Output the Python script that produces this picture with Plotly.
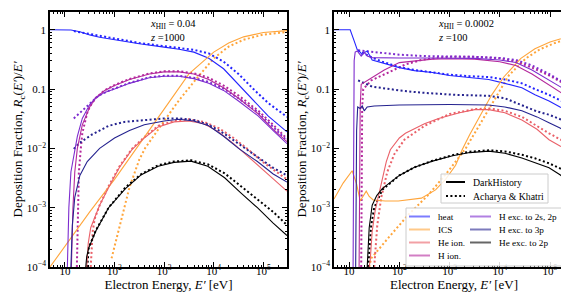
import math
import plotly.graph_objects as go

# ---------------- data (energy in eV, deposition fraction) ----------------
# Left panel: x_HII = 0.04, z = 1000
L_HEAT_DH_E = [5, 10, 13.2, 20, 31.6, 50, 100, 316, 1000, 2000, 3980, 7940, 1.58e4, 3.16e4, 6.31e4, 1.26e5, 3e5]
L_HEAT_DH_R = [1.0, 1.0, 0.99, 0.93, 0.82, 0.75, 0.68, 0.58, 0.51, 0.47, 0.42, 0.33, 0.22, 0.12, 0.065, 0.035, 0.019]
L_HEAT_AK_E = [15.1, 31.6, 100, 316, 1000, 2000, 3980, 7940, 1.58e4, 3.16e4, 6.31e4, 1.26e5, 3e5]
L_HEAT_AK_R = [0.95, 0.85, 0.70, 0.60, 0.53, 0.50, 0.46, 0.40, 0.29, 0.18, 0.10, 0.058, 0.034]

L_ICS_DH_E = [5, 10, 31.6, 100, 316, 1000, 3160, 6310, 1e4, 2e4, 4e4, 1e5, 3e5]
L_ICS_DH_R = [1.0e-4, 2.2e-4, 8.5e-4, 3.0e-3, 0.012, 0.046, 0.18, 0.30, 0.42, 0.60, 0.76, 0.90, 0.97]
L_ICS_AK_E = [87.1, 126, 200, 316, 417, 1000, 2000, 4790, 1e4, 2e4, 4e4, 1e5, 3e5]
L_ICS_AK_R = [1.4e-4, 5e-4, 2.2e-3, 6.5e-3, 0.0102, 0.029, 0.065, 0.16, 0.33, 0.52, 0.68, 0.83, 0.92]

L_HEION_DH_E = [27.5, 29.5, 33.1, 39.8, 50.1, 75.9, 126, 224, 398, 759, 1580, 3160, 6310, 1.26e4, 2.51e4, 5.01e4, 1e5, 1.58e5, 3e5]
L_HEION_DH_R = [1e-4, 2.5e-4, 4.6e-4, 7e-4, 1.1e-3, 2.2e-3, 4.8e-3, 0.0095, 0.015, 0.023, 0.028, 0.029, 0.026, 0.019, 0.012, 0.0072, 0.0043, 0.0031, 0.0019]
L_HEION_AK_E = [33.1, 34.7, 36.3, 39.8, 50.1, 75.9, 126, 224, 398, 759, 1580, 3160, 6310, 1.26e4, 2.51e4, 5.01e4, 1e5, 1.58e5, 3e5]
L_HEION_AK_R = [1e-4, 2.5e-4, 4e-4, 6.5e-4, 1.1e-3, 2.3e-3, 5e-3, 0.0098, 0.0155, 0.024, 0.029, 0.031, 0.028, 0.022, 0.015, 0.0095, 0.0058, 0.0044, 0.003]

L_HION_DH_E = [13.5, 14.5, 15.8, 17.8, 22.4, 31.6, 41.7, 63.1, 100, 200, 501, 1000, 2000, 3980, 7940, 1.58e4, 3.16e4, 7.94e4, 1.58e5, 3e5]
L_HION_DH_R = [1e-4, 1e-3, 4e-3, 0.01, 0.025, 0.05, 0.071, 0.095, 0.115, 0.145, 0.18, 0.195, 0.195, 0.18, 0.145, 0.105, 0.07, 0.038, 0.021, 0.013]
L_HION_AK_E = [17.4, 18.2, 19.1, 20.9, 22.4, 28.2, 31.6, 41.7, 63.1, 100, 200, 501, 1000, 2000, 3980, 7940, 1.58e4, 3.16e4, 7.94e4, 1.58e5, 3e5]
L_HION_AK_R = [1e-4, 1e-3, 4e-3, 0.01, 0.018, 0.04, 0.05, 0.071, 0.095, 0.117, 0.148, 0.183, 0.2, 0.2, 0.185, 0.155, 0.115, 0.078, 0.043, 0.025, 0.0145]

L_H2S_DH_E = [11.2, 12.0, 13.2, 15.1, 17.8, 22.4, 31.6, 41.7, 63.1, 100, 200, 501, 1000, 2000, 3980, 7940, 1.58e4, 3.16e4, 7.94e4, 1.58e5, 3e5]
L_H2S_DH_R = [1e-4, 1e-3, 4e-3, 0.008, 0.016, 0.032, 0.055, 0.071, 0.088, 0.1, 0.125, 0.155, 0.165, 0.165, 0.15, 0.125, 0.095, 0.063, 0.035, 0.02, 0.012]
L_H2S_AK_E = [15.1, 20, 26.3, 35.5, 47.9, 79.4, 100, 200, 501, 1000, 2000, 3980, 7940, 1.58e4, 3.16e4, 7.94e4, 1.58e5, 3e5]
L_H2S_AK_R = [0.032, 0.04, 0.048, 0.062, 0.078, 0.095, 0.102, 0.127, 0.158, 0.168, 0.168, 0.155, 0.132, 0.102, 0.07, 0.04, 0.023, 0.0135]

L_H3P_DH_E = [13.2, 14.1, 15.8, 20, 28.2, 50.1, 100, 200, 398, 1000, 2000, 3980, 7940, 1.58e4, 3.16e4, 7.59e4, 1.58e5, 3e5]
L_H3P_DH_R = [1e-4, 5e-4, 1.5e-3, 3.5e-3, 6e-3, 0.01, 0.015, 0.02, 0.025, 0.029, 0.031, 0.029, 0.024, 0.016, 0.01, 0.006, 0.0037, 0.0027]
L_H3P_AK_E = [15.1, 20, 34.7, 75.9, 158, 347, 1000, 2000, 3980, 7940, 1.58e4, 3.16e4, 7.59e4, 1.58e5, 3e5]
L_H3P_AK_R = [0.0098, 0.0125, 0.017, 0.024, 0.028, 0.03, 0.032, 0.032, 0.03, 0.025, 0.018, 0.012, 0.0072, 0.0047, 0.0035]

L_HEEXC_DH_E = [26.3, 27.5, 30.2, 41.7, 75.9, 166, 347, 759, 1580, 3470, 7590, 1.66e4, 3.47e4, 7.59e4, 1.58e5, 3e5]
L_HEEXC_DH_R = [1e-4, 1.5e-4, 2.1e-4, 4e-4, 1e-3, 2.1e-3, 3.6e-3, 5.0e-3, 5.8e-3, 6.1e-3, 5.0e-3, 3.2e-3, 1.8e-3, 1.0e-3, 5.5e-4, 3.4e-4]
L_HEEXC_AK_E = [28.2, 30.2, 41.7, 75.9, 166, 347, 759, 1580, 3470, 7590, 1.66e4, 3.47e4, 7.59e4, 1.58e5, 3e5]
L_HEEXC_AK_R = [1e-4, 2.1e-4, 4.1e-4, 1.0e-3, 2.2e-3, 3.7e-3, 5.2e-3, 6.0e-3, 6.3e-3, 5.4e-3, 3.8e-3, 2.3e-3, 1.4e-3, 8.5e-4, 5.1e-4]

# Right panel: x_HII = 0.0002, z = 100
R_HEAT_DH_E = [5, 10, 10.5, 12.6, 14.5, 16.6, 18.2, 20.9, 22.9, 28.8, 45.7, 100, 200, 457, 1000, 2510, 6030, 1.26e4, 2.75e4, 5.01e4, 9.55e4, 1.58e5, 3e5]
R_HEAT_DH_R = [1, 1, 1, 0.65, 0.46, 0.42, 0.38, 0.42, 0.44, 0.31, 0.28, 0.23, 0.205, 0.19, 0.17, 0.155, 0.145, 0.125, 0.105, 0.08, 0.063, 0.05, 0.04]
R_HEAT_AK_E = [15.1, 17.4, 20, 28.8, 45.7, 100, 200, 457, 1000, 2510, 6030, 1.26e4, 2.75e4, 5.01e4, 9.55e4, 1.58e5, 3e5]
R_HEAT_AK_R = [0.45, 0.42, 0.40, 0.34, 0.29, 0.235, 0.21, 0.19, 0.175, 0.165, 0.16, 0.145, 0.125, 0.10, 0.08, 0.065, 0.05]

R_ICS_DH_E = [5, 7.6, 11.5, 14.1, 16.6, 19.1, 21.9, 25.1, 30.2, 52.5, 95.5, 275, 525, 832, 1320, 1780, 2510, 4370, 6920, 1.2e4, 2.63e4, 5e4, 1e5, 1.58e5, 3e5]
R_ICS_DH_R = [1.4e-3, 2.6e-3, 4.2e-3, 2.5e-3, 1.3e-3, 1.6e-3, 1.9e-3, 1.55e-3, 1.35e-3, 1.3e-3, 1.3e-3, 1.45e-3, 2.0e-3, 3.0e-3, 5.2e-3, 9.5e-3, 0.017, 0.04, 0.08, 0.16, 0.33, 0.48, 0.62, 0.70, 0.79]
R_ICS_AK_E = [25.1, 27.5, 60.3, 151, 380, 955, 2090, 3980, 7940, 1.51e4, 3.31e4, 6.31e4, 1.26e5, 3e5]
R_ICS_AK_R = [1e-4, 1.4e-4, 3.1e-4, 7.6e-4, 1.65e-3, 4.2e-3, 0.01, 0.025, 0.068, 0.17, 0.33, 0.47, 0.60, 0.76]

R_HEION_DH_E = [25.1, 26.3, 28.8, 33.1, 45.7, 55, 66.1, 100, 132, 316, 603, 1580, 3160, 6030, 1.26e4, 2.75e4, 5.5e4, 9.55e4, 1.58e5, 3e5]
R_HEION_DH_R = [1e-4, 1.3e-4, 4e-4, 9e-4, 3e-3, 6e-3, 0.0095, 0.015, 0.018, 0.026, 0.032, 0.04, 0.045, 0.045, 0.04, 0.03, 0.021, 0.014, 0.011, 0.0085]
R_HEION_AK_E = [31.6, 36.3, 43.7, 57.5, 79.4, 126, 316, 1000, 3160, 6310, 1.26e4, 2.75e4, 9.55e4, 3e5]
R_HEION_AK_R = [1e-4, 5e-4, 1.5e-3, 4e-3, 0.008, 0.014, 0.024, 0.038, 0.046, 0.047, 0.043, 0.034, 0.018, 0.0105]

R_HION_DH_E = [15.8, 16.2, 16.6, 17.4, 22.9, 33.1, 50.1, 100, 200, 457, 1000, 3160, 1e4, 2.09e4, 4.37e4, 9.55e4, 1.58e5, 3e5]
R_HION_DH_R = [1e-4, 1e-3, 0.05, 0.12, 0.14, 0.17, 0.21, 0.28, 0.30, 0.32, 0.325, 0.32, 0.29, 0.25, 0.18, 0.118, 0.09, 0.063]
R_HION_AK_E = [17.4, 17.6, 18.2, 19.1, 27.5, 60, 132, 275, 600, 1000, 3160, 1e4, 2.09e4, 4.37e4, 9.55e4, 1.58e5, 3e5]
R_HION_AK_R = [1e-4, 0.01, 0.05, 0.10, 0.14, 0.19, 0.26, 0.31, 0.34, 0.35, 0.35, 0.33, 0.29, 0.23, 0.17, 0.135, 0.10]

R_H2S_DH_E = [12.0, 12.3, 12.6, 13.2, 14.5, 15.8, 17.4, 20, 22.9, 28.8, 45.7, 100, 316, 1000, 3160, 1e4, 2.09e4, 4.37e4, 9.55e4, 1.58e5, 3e5]
R_H2S_DH_R = [1e-4, 1e-2, 0.3, 0.42, 0.44, 0.40, 0.36, 0.42, 0.36, 0.34, 0.335, 0.335, 0.335, 0.335, 0.33, 0.31, 0.28, 0.21, 0.14, 0.11, 0.08]
R_H2S_AK_E = [15.1, 20, 45.7, 100, 316, 1000, 3160, 1e4, 2.09e4, 4.37e4, 9.55e4, 1.58e5, 3e5]
R_H2S_AK_R = [0.45, 0.44, 0.41, 0.38, 0.36, 0.355, 0.35, 0.335, 0.31, 0.25, 0.18, 0.14, 0.11]

R_H3P_DH_E = [13.5, 13.8, 14.1, 14.8, 16.6, 18.2, 20.0, 22.9, 31.6, 100, 1000, 6030, 1.26e4, 2.75e4, 5.5e4, 9.55e4, 1.58e5, 3e5]
R_H3P_DH_R = [1e-4, 1e-3, 0.02, 0.05, 0.047, 0.052, 0.043, 0.05, 0.052, 0.054, 0.055, 0.054, 0.05, 0.043, 0.034, 0.027, 0.022, 0.016]
R_H3P_AK_E = [15.1, 18.2, 28.8, 100, 275, 1320, 6030, 1.26e4, 2.75e4, 5.5e4, 9.55e4, 1.58e5, 3e5]
R_H3P_AK_R = [0.14, 0.13, 0.11, 0.095, 0.087, 0.08, 0.077, 0.07, 0.054, 0.042, 0.037, 0.031, 0.025]

R_HEEXC_DH_E = [22.9, 24.0, 25.1, 28.8, 35.5, 45.7, 100, 200, 457, 1150, 2510, 6030, 1.26e4, 2.75e4, 5.01e4, 9.55e4, 1.58e5, 3e5]
R_HEEXC_DH_R = [1e-4, 3e-4, 4.6e-4, 1.1e-3, 1.6e-3, 2.1e-3, 3.5e-3, 4.8e-3, 6.1e-3, 7.5e-3, 8.5e-3, 9e-3, 8.3e-3, 6.9e-3, 5.8e-3, 4.7e-3, 3.6e-3, 2.4e-3]
R_HEEXC_AK_E = [24.0, 25.1, 27.5, 31.6, 45.7, 100, 200, 457, 1150, 2510, 6030, 1.26e4, 2.75e4, 5.01e4, 9.55e4, 1.58e5, 3e5]
R_HEEXC_AK_R = [1e-4, 2e-4, 5e-4, 1e-3, 2.0e-3, 3.5e-3, 4.8e-3, 6.2e-3, 7.7e-3, 8.8e-3, 9.3e-3, 8.9e-3, 7.8e-3, 6.8e-3, 5.6e-3, 4.6e-3, 3.5e-3]

CATEGORIES = ["heat", "ICS", "He ion.", "H ion.", "H exc. to 2s, 2p", "H exc. to 3p", "He exc. to 2p"]
COLORS = ["#2424ff", "#ffa53b", "#ea6169", "#b4289c", "#7d2ccf", "#25238f", "#000000"]
LEGEND_COLORS = ["rgba(36,36,255,0.6)", "rgba(255,165,59,0.6)", "rgba(234,97,105,0.6)", "rgba(180,40,156,0.6)",
                 "rgba(125,44,207,0.6)", "rgba(37,35,143,0.6)", "rgba(0,0,0,0.6)"]
X_TICKS = [10, 100, 1e3, 1e4, 1e5]
X_TICKTEXT = ["10", "10<sup>2</sup>", "10<sup>3</sup>", "10<sup>4</sup>", "10<sup>5</sup>"]
Y_TICKS = [1e-4, 1e-3, 1e-2, 0.1, 1]
Y_TICKTEXT = ["10<sup>\u22124</sup>", "10<sup>\u22123</sup>", "10<sup>\u22122</sup>", "0.1", "1"]
STYLE_LABELS = ["DarkHistory", "Acharya & Khatri"]
PANEL_NOTES = [("<i>x</i><sub>HII</sub> = 0.04", "<i>z</i> =1000"), ("<i>x</i><sub>HII</sub> = 0.0002", "<i>z</i> =100")]

LEFT = [(L_HEAT_DH_E, L_HEAT_DH_R, L_HEAT_AK_E, L_HEAT_AK_R),
        (L_ICS_DH_E, L_ICS_DH_R, L_ICS_AK_E, L_ICS_AK_R),
        (L_HEION_DH_E, L_HEION_DH_R, L_HEION_AK_E, L_HEION_AK_R),
        (L_HION_DH_E, L_HION_DH_R, L_HION_AK_E, L_HION_AK_R),
        (L_H2S_DH_E, L_H2S_DH_R, L_H2S_AK_E, L_H2S_AK_R),
        (L_H3P_DH_E, L_H3P_DH_R, L_H3P_AK_E, L_H3P_AK_R),
        (L_HEEXC_DH_E, L_HEEXC_DH_R, L_HEEXC_AK_E, L_HEEXC_AK_R)]
RIGHT = [(R_HEAT_DH_E, R_HEAT_DH_R, R_HEAT_AK_E, R_HEAT_AK_R),
         (R_ICS_DH_E, R_ICS_DH_R, R_ICS_AK_E, R_ICS_AK_R),
         (R_HEION_DH_E, R_HEION_DH_R, R_HEION_AK_E, R_HEION_AK_R),
         (R_HION_DH_E, R_HION_DH_R, R_HION_AK_E, R_HION_AK_R),
         (R_H2S_DH_E, R_H2S_DH_R, R_H2S_AK_E, R_H2S_AK_R),
         (R_H3P_DH_E, R_H3P_DH_R, R_H3P_AK_E, R_H3P_AK_R),
         (R_HEEXC_DH_E, R_HEEXC_DH_R, R_HEEXC_AK_E, R_HEEXC_AK_R)]

# ---------------- figure ----------------
W, H = 569, 294
FONT = "Liberation Serif"
DOT = "2px,2.4px"

fig = go.Figure()
for (xa, ya, panel) in [("x", "y", LEFT), ("x2", "y2", RIGHT)]:
    for i, (de, dr, ae, ar) in enumerate(panel):
        fig.add_trace(go.Scatter(x=ae, y=ar, xaxis=xa, yaxis=ya, mode="lines",
                                 line=dict(color=COLORS[i], width=2.0, dash=DOT),
                                 name=CATEGORIES[i] + " AK", showlegend=False))
    for i, (de, dr, ae, ar) in enumerate(panel):
        fig.add_trace(go.Scatter(x=de, y=dr, xaxis=xa, yaxis=ya, mode="lines",
                                 line=dict(color=COLORS[i], width=1.1),
                                 name=CATEGORIES[i], showlegend=False))

def px(x):
    return x / W

def py(y):
    return 1 - y / H

x_minor = [d * 10 ** k for k in range(0, 6) for d in range(2, 10) if 5 <= d * 10 ** k <= 3e5]
y_minor = [d * 10.0 ** k for k in range(-4, 0) for d in range(2, 10)]

axis_common = dict(type="log", showgrid=False, zeroline=False, showline=True, linecolor="black",
                   linewidth=1.6, mirror="allticks", ticks="inside", ticklen=5, tickwidth=1,
                   tickcolor="black", tickfont=dict(size=11, family=FONT), automargin=False)
xtitle = dict(text="Electron Energy, <i>E\u2032</i> [eV]", font=dict(size=13, family=FONT), standoff=3)
ytitle = dict(text="Deposition Fraction, <i>R</i><sub>c</sub>(<i>E\u2032</i>)/<i>E\u2032</i>",
              font=dict(size=13, family=FONT), standoff=0)
xminor = dict(tickmode="array", tickvals=x_minor, ticks="inside", ticklen=2.5, tickwidth=0.8, tickcolor="black")
yminor = dict(tickmode="array", tickvals=y_minor, ticks="inside", ticklen=2.5, tickwidth=0.8, tickcolor="black")
xr = [math.log10(5), math.log10(3e5)]
yr = [-4, 0.3]

fig.update_layout(
    width=W, height=H, margin=dict(l=0, r=0, t=0, b=0),
    paper_bgcolor="white", plot_bgcolor="white", showlegend=False,
    font=dict(family=FONT, size=11, color="black"),
    xaxis=dict(domain=[px(42), px(279)], range=xr, anchor="y", tickvals=X_TICKS, ticktext=X_TICKTEXT,
               title=xtitle, minor=xminor, ticklabelstandoff=-7, **axis_common),
    yaxis=dict(domain=[py(259), py(4)], range=yr, anchor="x", tickvals=Y_TICKS, ticktext=Y_TICKTEXT,
               title=ytitle, minor=yminor, **axis_common),
    xaxis2=dict(domain=[px(326), px(566)], range=xr, anchor="y2", tickvals=X_TICKS, ticktext=X_TICKTEXT,
                title=xtitle, minor=xminor, ticklabelstandoff=-7, **axis_common),
    yaxis2=dict(domain=[py(259), py(4)], range=yr, anchor="x2", tickvals=Y_TICKS, ticktext=Y_TICKTEXT,
                title=ytitle, minor=yminor, **axis_common),
)

annotations = []
shapes = []
# panel notes
for (nx, (l1, l2)) in zip([140, 428], PANEL_NOTES):
    annotations.append(dict(x=px(nx), y=py(17), xref="paper", yref="paper", text=l1, showarrow=False,
                            xanchor="left", yanchor="middle", font=dict(size=10.5, family=FONT)))
    annotations.append(dict(x=px(nx), y=py(29), xref="paper", yref="paper", text=l2, showarrow=False,
                            xanchor="left", yanchor="middle", font=dict(size=10.5, family=FONT)))

# legend 1: line styles
shapes.append(dict(type="rect", xref="paper", yref="paper", x0=px(433), x1=px(540), y0=py(195), y1=py(166),
                   line=dict(color="#cccccc", width=1), fillcolor="rgba(255,255,255,0.85)", layer="above"))
for j, (lab, dash) in enumerate(zip(STYLE_LABELS, ["solid", DOT])):
    yy = 174 + j * 14
    shapes.append(dict(type="line", xref="paper", yref="paper", x0=px(438), x1=px(457), y0=py(yy), y1=py(yy),
                       line=dict(color="black", width=2, dash=dash), layer="above"))
    annotations.append(dict(x=px(463), y=py(yy), xref="paper", yref="paper", text=lab, showarrow=False,
                            xanchor="left", yanchor="middle", font=dict(size=9.8, family=FONT)))

# legend 2: categories
shapes.append(dict(type="rect", xref="paper", yref="paper", x0=px(398), x1=px(561), y0=py(258), y1=py(200),
                   line=dict(color="#cccccc", width=1), fillcolor="rgba(255,255,255,0.85)", layer="above"))
for i, lab in enumerate(CATEGORIES):
    col = 0 if i < 4 else 1
    row = i if i < 4 else i - 4
    x0 = 401 if col == 0 else 462
    yy = 208.5 + row * 13
    shapes.append(dict(type="line", xref="paper", yref="paper", x0=px(x0), x1=px(x0 + 21), y0=py(yy), y1=py(yy),
                       line=dict(color=LEGEND_COLORS[i], width=2), layer="above"))
    annotations.append(dict(x=px(x0 + 27), y=py(yy), xref="paper", yref="paper", text=lab, showarrow=False,
                            xanchor="left", yanchor="middle", font=dict(size=9.2, family=FONT)))

fig.update_layout(annotations=annotations, shapes=shapes)
fig.write_html("out.html")
